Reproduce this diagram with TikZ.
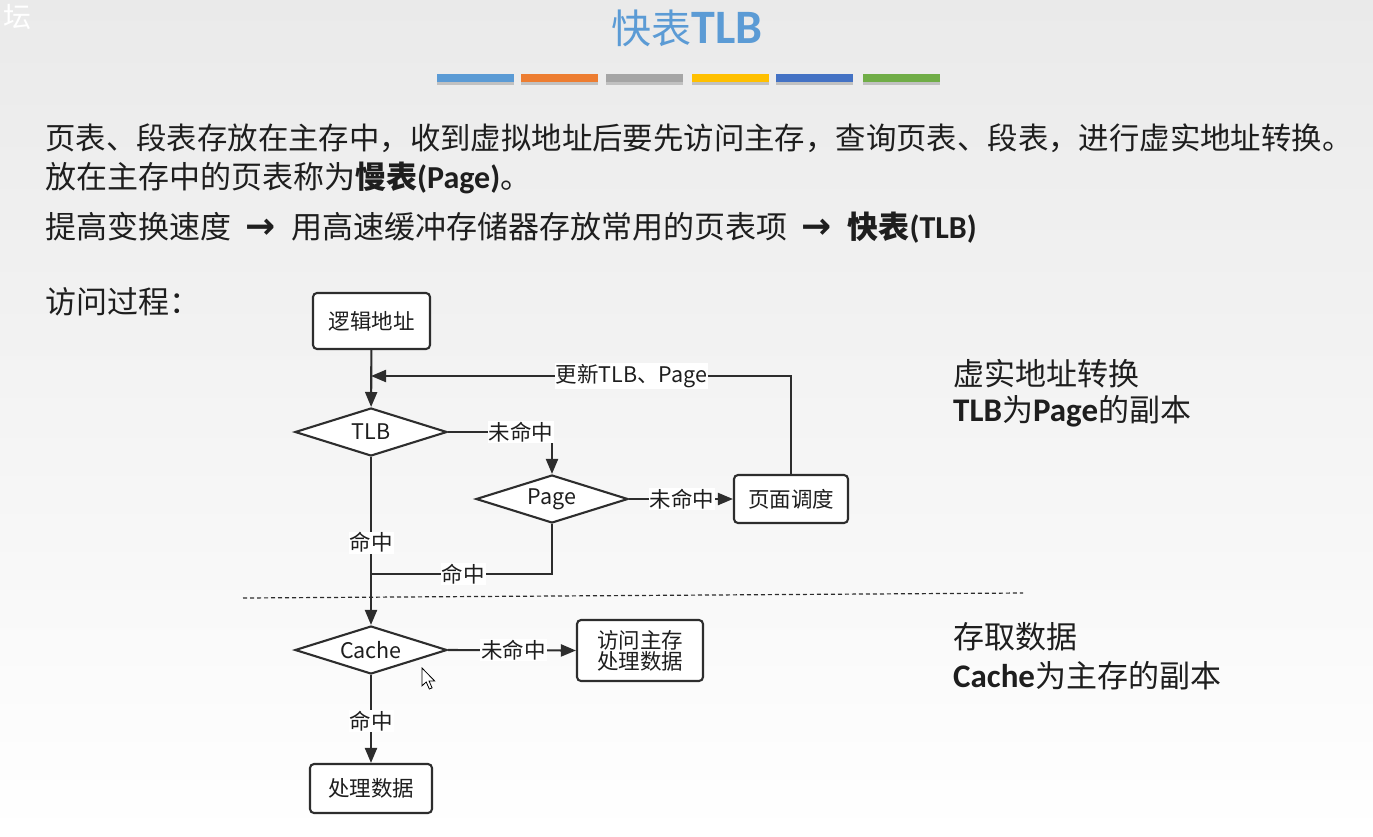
\documentclass[tikz,border=0pt]{standalone}
\usepackage{fontspec}
\setmainfont{Noto Sans CJK SC}
\newfontfamily\carl{Carlito}
\newfontfamily\dvs{DejaVu Sans}
\usetikzlibrary{shapes.geometric,arrows.meta,calc}
\definecolor{ink}{RGB}{45,45,45}
\definecolor{titleblue}{RGB}{91,155,213}
\definecolor{barA}{RGB}{91,155,213}
\definecolor{barB}{RGB}{237,125,49}
\definecolor{barC}{RGB}{165,165,165}
\definecolor{barD}{RGB}{255,192,0}
\definecolor{barE}{RGB}{68,114,196}
\definecolor{barF}{RGB}{112,173,71}
\definecolor{bgtop}{RGB}{234,234,234}
\definecolor{txt}{RGB}{30,30,30}
\newcommand{\bodysize}{\fontsize{31}{36}\selectfont}
\newcommand{\flowsize}{\fontsize{21.5}{26}\selectfont}
\newcommand{\bigarrow}{\hspace{14pt}{\dvs\bfseries\fontsize{36}{36}\selectfont →}\hspace{16pt}}
\tikzset{
  flowbox/.style={draw=ink, line width=2.1pt, rounded corners=4pt, fill=white,
    inner sep=0pt, font=\flowsize, text=txt},
  decision/.style={diamond, draw=ink, line width=2.1pt, fill=white, inner sep=0pt,
    minimum width=152pt, minimum height=48pt, aspect=3.17, font=\flowsize, text=txt},
  conn/.style={draw=ink, line width=2.1pt, -{Triangle[length=15pt,width=12pt]}},
  plain/.style={draw=ink, line width=2.1pt},
  lbl/.style={fill=white, inner sep=1pt, font=\flowsize, text=txt},
  body/.style={anchor=west, inner sep=0pt, font=\bodysize, text=txt},
  bar/.style={minimum width=77pt, minimum height=8pt, inner sep=0pt}
}
\begin{document}
\begin{tikzpicture}[x=1pt,y=-1pt]
% page background
\shade[top color=bgtop, bottom color=white, middle color={rgb,255:red,244;green,244;blue,244}]
  (0,0) rectangle (1373,836);
\useasboundingbox (0,0) rectangle (1373,836);

% watermark
\node[anchor=west, inner sep=0pt, text=white, font=\fontsize{28}{30}\selectfont] (wm) at (3,17) {坛};

% title and colour bars
\node[inner sep=0pt, text=titleblue] (title) at (687,28)
  {\fontsize{40}{44}\selectfont 快表\carl\bfseries\fontsize{48}{48}\selectfont TLB};
\foreach \cx/\c [count=\i] in {475/barA,559/barB,644.5/barC,730/barD,814/barE,901.5/barF}{
  \fill[black,opacity=0.18] (\cx-38.5,80) rectangle (\cx+38.5,85);
  \node[bar, fill=\c] (bar\i) at (\cx,78) {};
}

% body text
\node[body, font=\fontsize{30.4}{36}\selectfont] (l1) at (45,138) {页表、段表存放在主存中，收到虚拟地址后要先访问主存，查询页表、段表，进行虚实地址转换。};
\node[body] (l2) at (45,178) {放在主存中的页表称为\textbf{慢表}{\carl\bfseries\fontsize{32}{36}\selectfont(Page)}。};
\node[body] (l3) at (45,228) {提高变换速度\bigarrow 用高速缓冲存储器存放常用的页表项\bigarrow\textbf{快表}{\carl\bfseries\fontsize{32}{36}\selectfont(TLB)}};
\node[body] (l4) at (45,302) {访问过程：};

% side notes
\node[body] (n1) at (953,374) {虚实地址转换};
\node[body] (n2) at (953,411) {{\carl\bfseries\fontsize{33}{36}\selectfont TLB}为{\carl\bfseries\fontsize{33}{36}\selectfont Page}的副本};
\node[body] (n3) at (953,637) {存取数据};
\node[body] (n4) at (953,676) {{\carl\bfseries\fontsize{33}{36}\selectfont Cache}为主存的副本};

% flow nodes
\node[flowbox, minimum width=117pt, minimum height=56pt] (addr) at (371.5,321) {逻辑地址};
\node[decision] (tlb) at (371,432) {TLB};
\node[decision] (page) at (552,499) {Page};
\node[flowbox, minimum width=114pt, minimum height=48pt] (sched) at (791,499) {页面调度};
\node[decision] (cache) at (371,650) {Cache};
\node[flowbox, minimum width=126pt, minimum height=61pt, align=center] (mem) at (640,650.5) {访问主存\\[-5pt]处理数据};
\node[flowbox, minimum width=122pt, minimum height=49pt] (proc) at (371,788.5) {处理数据};

\coordinate (jUp) at (371,376);
\coordinate (jHit) at (371,574);

% connectors
\draw[conn] (addr) -- (tlb);
\draw[conn] (sched.north) |- node[lbl, pos=0.69] (lUpd) {更新TLB、Page} (jUp);
\draw[conn] (tlb.east) -| node[lbl, pos=0.35] (lMiss1) {未命中} (page.north);
\draw[conn] (page.east) -- node[lbl, pos=0.51] (lMiss2) {未命中} (sched.west);
\draw[conn] (tlb.south) -- node[lbl, pos=0.51] (lHit1) {命中} (cache.north);
\draw[plain] (page.south) |- node[lbl, pos=0.745] (lHit2) {命中} (jHit);
\draw[conn] (cache.east) -- node[lbl, pos=0.51] (lMiss3) {未命中} (mem.west);
\draw[conn] (cache.south) -- node[lbl, pos=0.52] (lHit3) {命中} (proc.north);

% separator between translation and data access
\draw[ink, line width=1.2pt, dash pattern=on 4pt off 3pt] (243,598) -- (1023,593);

% mouse pointer
\begin{scope}[shift={(422,668)}, scale=1.05]
  \draw[black, line width=0.8pt, fill=white, line join=miter]
    (0,0) -- (0,17) -- (4,13.3) -- (7,20) -- (9.6,18.9) -- (6.7,12.3) -- (12,12.3) -- cycle;
\end{scope}
\end{tikzpicture}
\end{document}
